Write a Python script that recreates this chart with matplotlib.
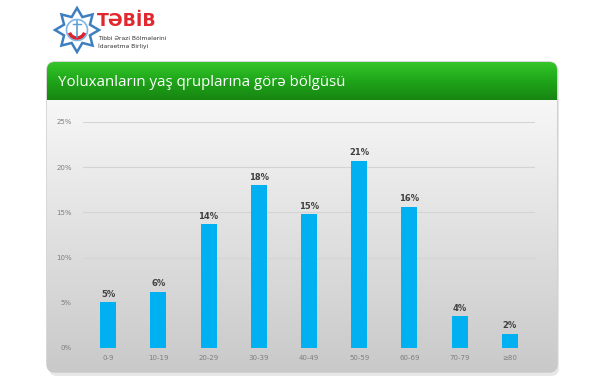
import numpy as np
import matplotlib
matplotlib.use("Agg")
import matplotlib.pyplot as plt
from matplotlib.patches import FancyBboxPatch, Polygon, Arc

categories = ["0-9", "10-19", "20-29", "30-39", "40-49", "50-59", "60-69", "70-79", "≥80"]
shares = [5.05, 6.2, 13.7, 18.0, 14.8, 20.7, 15.6, 3.5, 1.6]
value_labels = ["5%", "6%", "14%", "18%", "15%", "21%", "16%", "4%", "2%"]
y_ticks = [0, 5, 10, 15, 20, 25]

W, H = 600, 380
fig = plt.figure(figsize=(6, 3.8), dpi=100)
fig.patch.set_facecolor("white")

# background layer in pixel coordinates
bg = fig.add_axes([0, 0, 1, 1])
bg.set_xlim(0, W)
bg.set_ylim(H, 0)
bg.axis("off")

# panel shadow
shadow = FancyBboxPatch((49, 64), 510, 312, boxstyle="round,pad=0,rounding_size=8",
                        fc="#d8d8d8", ec="none", alpha=0.6)
bg.add_patch(shadow)

# panel body with vertical gradient
body = FancyBboxPatch((47, 62), 510, 310, boxstyle="round,pad=0,rounding_size=8",
                      fc="none", ec="#c8c8c8", lw=1)
bg.add_patch(body)
grad = np.linspace(0, 1, 256).reshape(-1, 1)
im = bg.imshow(grad, extent=(47, 557, 372, 100), cmap=matplotlib.colors.LinearSegmentedColormap.from_list(
    "g", ["#f7f7f7", "#c9c9c9"]), aspect="auto", origin="upper", zorder=1)
im.set_clip_path(body)

# green header
head = FancyBboxPatch((47, 62), 510, 46, boxstyle="round,pad=0,rounding_size=8",
                      fc="none", ec="none")
bg.add_patch(head)
hg = bg.imshow(grad, extent=(47, 557, 100, 62), cmap=matplotlib.colors.LinearSegmentedColormap.from_list(
    "h", ["#34c62a", "#1fa519", "#178512"]), aspect="auto", origin="upper", zorder=2)
hg.set_clip_path(head)
bg.text(58, 82, "Yoluxanların yaş qruplarına görə bölgüsü", color="white",
        fontsize=10.8, family=["Open Sans", "DejaVu Sans"], va="center", ha="left", zorder=3)

# logo star
ang = np.linspace(0, 2 * np.pi, 17)[:-1] + np.pi / 2
rad = np.where(np.arange(16) % 2 == 0, 22, 14)
star = np.column_stack([77 + rad * np.cos(ang), 30 - rad * np.sin(ang)])
bg.add_patch(Polygon(star, closed=True, fc="white", ec="#3d7fc1", lw=1.8, zorder=3))
bg.add_patch(Arc((77, 30), 21, 21, color="#7fb6e4", lw=1.2, zorder=3))
bg.add_patch(Arc((77, 30), 16, 16, theta1=20, theta2=160, color="#d9232d", lw=2.5, zorder=4))
bg.plot([77, 77], [21, 37], color="#5aa0d8", lw=1.2, zorder=4)
bg.plot([73, 81], [24, 24], color="#5aa0d8", lw=1.0, zorder=4)
bg.text(97, 21, "TƏBİB", color="#e0282e", fontsize=12.5, fontweight="bold",
        family="DejaVu Sans", va="center", ha="left", zorder=4)
bg.text(98, 39, "Tibbi Ərazi Bölmələrini", color="#333333", fontsize=4.3,
        va="center", ha="left", zorder=4)
bg.text(98, 46, "İdarəetmə Birliyi", color="#333333", fontsize=4.3,
        va="center", ha="left", zorder=4)

# chart axes
x0, x1, y0, y1 = 83, 535, 348, 122
ax = fig.add_axes([x0 / W, (H - y0) / H, (x1 - x0) / W, (y0 - y1) / H])
ax.patch.set_alpha(0)
x = np.arange(len(categories))
ax.bar(x, shares, width=0.32, color="#00b0f0", zorder=3)
for xi, v, lab in zip(x, shares, value_labels):
    ax.text(xi, v + 0.4, lab, ha="center", va="bottom", fontsize=6,
            fontweight="bold", color="#404040")
ax.set_xlim(-0.5, len(categories) - 0.5)
ax.set_ylim(0, 25)
ax.set_yticks(y_ticks)
ax.set_yticklabels([f"{t}%" for t in y_ticks])
ax.set_xticks(x)
ax.set_xticklabels(categories)
ax.tick_params(axis="both", length=0, labelsize=5, labelcolor="#7f7f7f")
ax.tick_params(axis="y", pad=8)
ax.tick_params(axis="x", pad=5)
ax.grid(axis="y", color="#d4d4d4", lw=0.8, zorder=0)
for s in ax.spines.values():
    s.set_visible(False)

fig.savefig("out.png", dpi=100)
